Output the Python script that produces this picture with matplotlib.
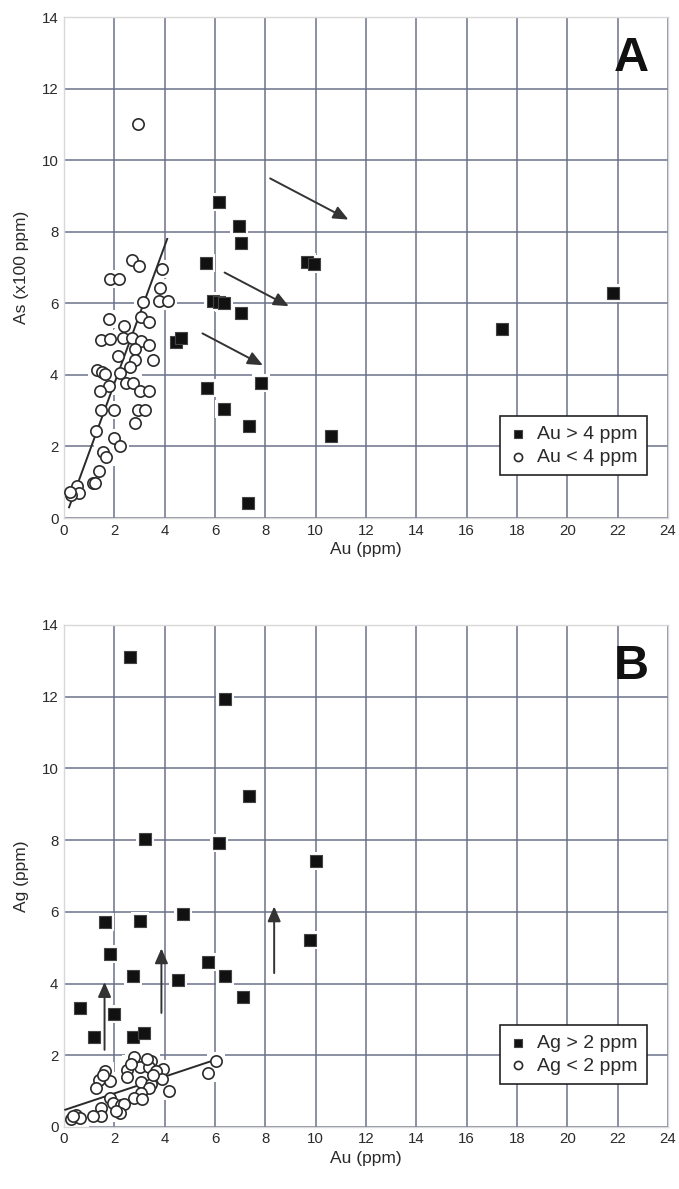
import matplotlib
matplotlib.use("Agg")
import matplotlib.pyplot as plt

plt.rcParams['font.family'] = ['Liberation Sans', 'DejaVu Sans']

# panel A: As vs Au
a_au_lo = [2.95, 2.69, 2.98, 1.84, 2.19, 3.88, 3.81, 3.77, 4.14, 3.15, 1.77, 3.06, 3.39, 2.39,
           1.47, 1.84, 2.34, 2.72, 3.06, 3.36, 2.83, 2.14, 3.55, 2.82, 2.63, 1.31, 1.51, 1.64,
           2.23, 2.46, 2.76, 3.02, 3.39, 1.77, 1.44, 1.48, 1.97, 2.94, 3.22, 2.83, 1.27, 1.97,
           2.23, 1.53, 1.67, 1.38, 1.14, 1.22, 0.52, 0.61, 0.26, 0.22]
a_as_lo = [11.02, 7.22, 7.04, 6.69, 6.69, 6.96, 6.44, 6.06, 6.06, 6.04, 5.55, 5.62, 5.48, 5.36,
           4.97, 5.00, 5.03, 5.03, 4.95, 4.83, 4.71, 4.53, 4.41, 4.41, 4.23, 4.15, 4.09, 4.02,
           4.04, 3.78, 3.76, 3.55, 3.56, 3.69, 3.56, 3.02, 3.02, 3.02, 3.02, 2.66, 2.44, 2.25,
           2.02, 1.85, 1.71, 1.32, 0.99, 0.97, 0.89, 0.69, 0.65, 0.74]
a_au_hi = [6.16, 6.95, 7.02, 5.66, 9.64, 9.94, 5.92, 6.15, 6.34, 7.02, 4.45, 4.65, 7.83, 5.69,
           6.34, 7.35, 10.6, 7.3, 17.39, 21.8]
a_as_hi = [8.82, 8.16, 7.69, 7.13, 7.16, 7.11, 6.06, 6.04, 6.01, 5.74, 4.92, 5.02, 3.76, 3.62,
           3.04, 2.57, 2.29, 0.43, 5.28, 6.29]
a_fit_x = [0.2, 4.1]
a_fit_y = [0.3, 7.8]
a_arrows = [((8.19, 9.49), (11.3, 8.34)), ((6.38, 6.86), (8.93, 5.92)), ((5.5, 5.16), (7.9, 4.27))]

# panel B: Ag vs Au
b_au_lo = [2.8, 3.46, 3.0, 2.51, 3.37, 3.92, 3.66, 1.61, 1.37, 1.81, 2.49, 3.04, 3.46, 3.88,
           1.28, 3.39, 4.19, 3.04, 2.8, 3.11, 1.81, 1.94, 2.27, 2.4, 2.21, 1.48, 1.48, 1.14,
           0.48, 0.29, 0.62, 6.04, 5.73, 1.55, 2.65, 3.3, 3.55, 2.05, 0.35]
b_ag_lo = [1.94, 1.84, 1.68, 1.59, 1.68, 1.62, 1.55, 1.55, 1.31, 1.28, 1.39, 1.24, 1.21, 1.33,
           1.08, 1.08, 1.0, 0.94, 0.8, 0.78, 0.8, 0.68, 0.61, 0.64, 0.38, 0.52, 0.3, 0.3,
           0.33, 0.21, 0.24, 1.85, 1.51, 1.45, 1.75, 1.9, 1.45, 0.45, 0.3]
b_au_hi = [2.64, 6.41, 7.36, 3.22, 6.17, 10.03, 4.73, 1.61, 3.01, 9.77, 1.81, 5.71, 2.76, 4.54,
           6.4, 7.12, 0.62, 2.0, 1.21, 2.76, 3.19]
b_ag_hi = [13.1, 11.93, 9.23, 8.02, 7.93, 7.43, 5.93, 5.71, 5.73, 5.22, 4.83, 4.61, 4.21, 4.10,
           4.21, 3.62, 3.31, 3.14, 2.52, 2.52, 2.61]
b_fit_x = [0.05, 6.0]
b_fit_y = [0.48, 1.87]
b_arrows = [((1.61, 2.15), (1.61, 4.04)), ((3.87, 3.18), (3.87, 4.98)), ((8.35, 4.29), (8.35, 6.15))]

xticks = list(range(0, 25, 2))
yticks = list(range(0, 15, 2))
grid_col = '#6b7189'
ink = '#2a2a2a'


def draw_panel(ax, x_lo, y_lo, x_hi, y_hi, fit_x, fit_y, arrows, ylabel, letter, lab_hi, lab_lo):
    ax.set_xlim(0, 24)
    ax.set_ylim(0, 14)
    ax.set_xticks(xticks)
    ax.set_yticks(yticks)
    ax.grid(True, color=grid_col, lw=1.1, zorder=0)
    ax.set_axisbelow(True)
    ax.tick_params(length=0, labelsize=10.8, labelcolor=ink, pad=4)
    for s in ax.spines.values():
        s.set_color('#d8d8d8')
        s.set_linewidth(1.0)

    # white halo behind markers, so the grid looks broken around them
    ax.scatter(x_lo + x_hi, y_lo + y_hi, s=150, marker='s', c='white', lw=0, zorder=2)

    ax.plot(fit_x, fit_y, color=ink, lw=1.4, zorder=3)
    ax.scatter(x_lo, y_lo, s=66, marker='o', facecolors='white', edgecolors=ink,
               linewidths=1.2, zorder=4, label=lab_lo)
    ax.scatter(x_hi, y_hi, s=70, marker='s', c='#111111', edgecolors='#444444',
               linewidths=0.8, zorder=5, label=lab_hi)

    for start, end in arrows:
        ax.annotate('', xy=end, xytext=start,
                    arrowprops=dict(arrowstyle='-|>,head_length=0.5,head_width=0.22',
                                    color='#333333', lw=1.4,
                                    mutation_scale=18, shrinkA=0, shrinkB=0), zorder=6)

    ax.text(22.55, 12.85, letter, fontsize=35, fontweight='bold', color='#111111',
            ha='center', va='center', zorder=7)

    ax.set_xlabel('Au (ppm)', fontsize=12.5, color=ink, labelpad=3)
    ax.set_ylabel(ylabel, fontsize=12.5, color=ink, labelpad=9)

    handles, labels = ax.get_legend_handles_labels()
    leg = ax.legend(handles[::-1], labels[::-1], loc='lower right', bbox_to_anchor=(0.965, 0.085),
                    fontsize=14, frameon=True, fancybox=False, framealpha=1,
                    edgecolor='#222222', handletextpad=0.5, borderpad=0.5,
                    labelspacing=0.25, handlelength=0.9, markerscale=0.72, borderaxespad=0)
    for t in leg.get_texts():
        t.set_color(ink)
    leg.get_frame().set_linewidth(1.2)
    leg.set_zorder(8)


fig = plt.figure(figsize=(6.79, 11.89), dpi=100)
ax_a = fig.add_axes([0.0943, 0.5643, 0.8895, 0.4214])
ax_b = fig.add_axes([0.0943, 0.0522, 0.8895, 0.4222])

draw_panel(ax_a, a_au_lo, a_as_lo, a_au_hi, a_as_hi, a_fit_x, a_fit_y, a_arrows,
           'As (x100 ppm)', 'A', 'Au > 4 ppm', 'Au < 4 ppm')
draw_panel(ax_b, b_au_lo, b_ag_lo, b_au_hi, b_ag_hi, b_fit_x, b_fit_y, b_arrows,
           'Ag (ppm)', 'B', 'Ag > 2 ppm', 'Ag < 2 ppm')

fig.savefig('out.png', dpi=100)
